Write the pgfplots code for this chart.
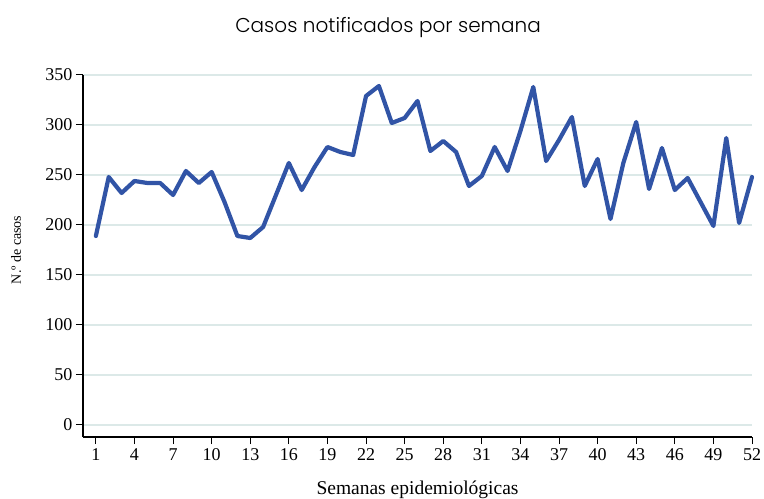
\documentclass[border=0pt]{standalone}
\usepackage{fontspec}
\setmainfont{Liberation Serif}
\newfontfamily\titlefont{Poppins Light}
\usepackage{pgfplots}
\pgfplotsset{compat=1.18}
\definecolor{lineblue}{HTML}{3154A6}
\definecolor{gridc}{HTML}{DCE9E8}
\begin{document}
\begin{tikzpicture}
\path[use as bounding box] (0,0) rectangle (764bp,499bp);
\begin{axis}[
  at={(83bp,62bp)}, anchor=south west,
  scale only axis, width=669bp, height=362bp,
  xmin=0, xmax=52, ymin=-12, ymax=350,
  axis lines=left, axis line style={-, line width=1.2bp, black},
  xtick={1,4,...,52}, ytick={0,50,...,350},
  tick align=outside, major tick length=7bp,
  tick style={line width=1bp, black},
  ymajorgrids, grid style={gridc, line width=1.6bp},
  /pgf/number format/assume math mode=true,
  tick label style={font=\fontsize{18bp}{20bp}\selectfont},
  xticklabel style={yshift=-1bp},
  title={\titlefont\fontsize{20bp}{24bp}\selectfont Casos notificados por semana},
  title style={at={(rel axis cs:0.456,1.116)}, anchor=center},
  xlabel={Semanas epidemiológicas},
  xlabel style={at={(rel axis cs:0.5,-0.146)}, anchor=center, font=\fontsize{19.5bp}{22bp}\selectfont},
  ylabel={N.º de casos},
  ylabel style={at={(rel axis cs:-0.100,0.517)}, anchor=center, rotate=0, font=\fontsize{14bp}{16bp}\selectfont},
  clip=false,
]
\addplot[lineblue, line width=4.2bp, line join=round, line cap=round] coordinates {
(1,189) (2,248) (3,232) (4,244) (5,242) (6,242) (7,230) (8,254) (9,242) (10,253)
(11,223) (12,189) (13,187) (14,198) (15,230) (16,262) (17,235) (18,258) (19,278) (20,273)
(21,270) (22,329) (23,339) (24,302) (25,307) (26,324) (27,274) (28,284) (29,273) (30,239)
(31,249) (32,278) (33,254) (34,294) (35,338) (36,264) (37,285) (38,308) (39,239) (40,266)
(41,206) (42,262) (43,303) (44,236) (45,277) (46,235) (47,247) (48,223) (49,199) (50,287)
(51,202) (52,248)
};
\end{axis}
\end{tikzpicture}
\end{document}
